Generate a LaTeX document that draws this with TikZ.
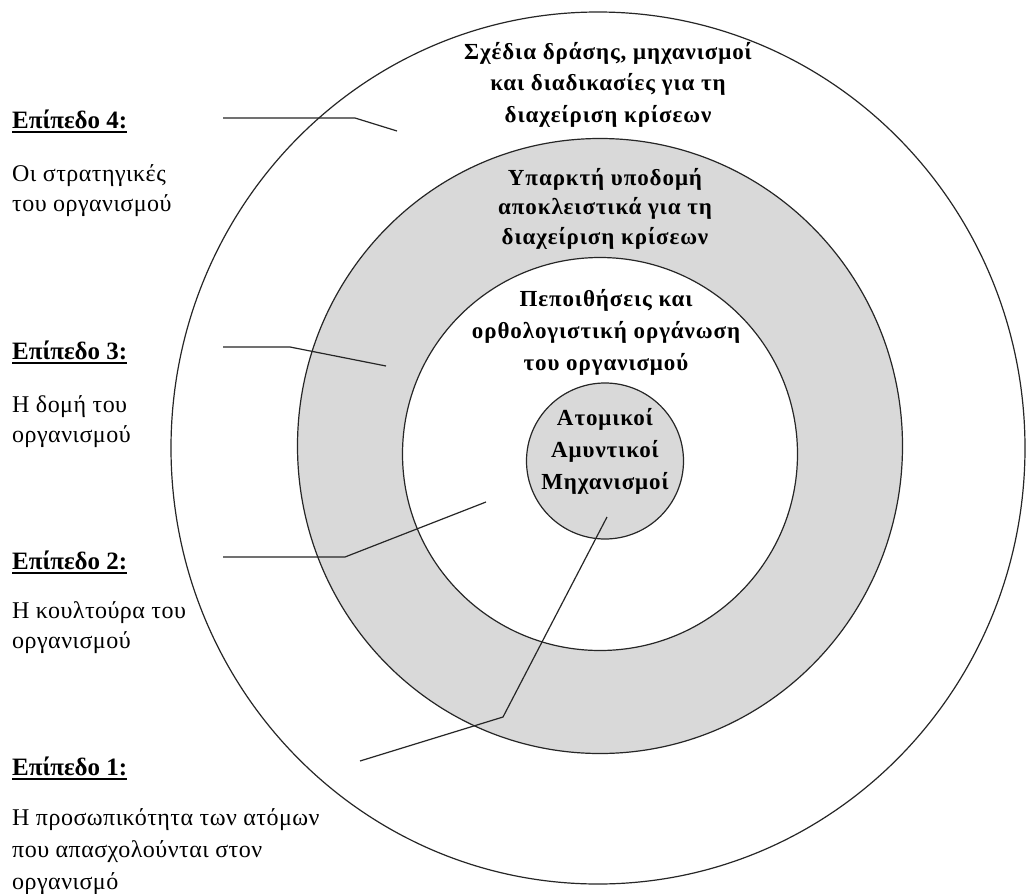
\documentclass[tikz,border=0pt]{standalone}
\usepackage{fontspec}
\setmainfont{Liberation Serif}
\newfontfamily\circfont[LetterSpace=4]{Liberation Serif}
\newfontfamily\bodyfont[LetterSpace=2]{Liberation Serif}
\usetikzlibrary{shapes.geometric}
\newcommand{\ulbox}[1]{\setbox0=\hbox{#1}\leavevmode\rlap{\rule[-5pt]{\wd0}{2pt}}\box0}
\definecolor{ringgray}{RGB}{217,217,217}
\begin{document}
\begin{tikzpicture}[x=1pt,y=-1pt,
  ring/.style={ellipse, draw=black!85, line width=1.2pt, inner sep=0pt},
  lead/.style={draw=black!85, line width=1.2pt},
  lvl/.style={anchor=base west, inner sep=0pt, font=\fontsize{25}{30}\selectfont\bfseries},
  desc/.style={anchor=base west, inner sep=0pt, align=left, font=\bodyfont\fontsize{24}{29.5}\selectfont},
  ctext/.style={anchor=base, inner sep=0pt, align=center, font=\circfont\bfseries\fontsize{23}{31.5}\selectfont}]
\useasboundingbox (0,0) rectangle (1031,894);
\fill[white] (0,0) rectangle (1031,894);
% rings
\node[ring, fill=white, minimum width=854pt, minimum height=872pt] (outer) at (598,448) {};
\node[ring, fill=ringgray, minimum width=605pt, minimum height=615pt] (gray) at (600,446) {};
\node[ring, fill=white, minimum width=395pt, minimum height=393pt] (inner) at (600,454) {};
\node[ring, fill=ringgray, minimum width=157pt, minimum height=156pt] (core) at (605,461) {};
% leader lines
\coordinate (l4s) at (223,118); \coordinate (l4k) at (355,118); \coordinate (l4e) at (397,131);
\coordinate (l3s) at (223,347); \coordinate (l3k) at (290,347); \coordinate (l3e) at (386,366);
\coordinate (l2s) at (223,557); \coordinate (l2k) at (345,557); \coordinate (l2e) at (486,502);
\coordinate (l1s) at (360,761); \coordinate (l1k) at (503,717); \coordinate (l1e) at (607,517);
\draw[lead] (l4s) -- (l4k) -- (l4e);
\draw[lead] (l3s) -- (l3k) -- (l3e);
\draw[lead] (l2s) -- (l2k) -- (l2e);
\draw[lead] (l1s) -- (l1k) -- (l1e);
% circle texts (anchor = baseline of last line)
\node[ctext] (t4) at (608,122) {Σχέδια δράσης, μηχανισμοί\\και διαδικασίες για τη\\διαχείριση κρίσεων};
\node[ctext, font=\circfont\bfseries\fontsize{23}{29.5}\selectfont] (t3) at (605,244) {Υπαρκτή υποδομή\\αποκλειστικά για τη\\διαχείριση κρίσεων};
\node[ctext, font=\circfont\bfseries\fontsize{23}{32}\selectfont] (t2) at (606,370) {Πεποιθήσεις και\\ορθολογιστική οργάνωση\\του οργανισμού};
\node[ctext, font=\circfont\bfseries\fontsize{23}{32}\selectfont] (t1) at (605,489) {Ατομικοί\\Αμυντικοί\\Μηχανισμοί};
% level labels
\node[lvl] (lv4) at (12,128) {\ulbox{Επίπεδο 4:}};
\node[desc] (d4) at (12,211) {Οι στρατηγικές\\του οργανισμού};
\node[lvl] (lv3) at (12,359) {\ulbox{Επίπεδο 3:}};
\node[desc] (d3) at (12,442) {Η δομή του\\οργανισμού};
\node[lvl] (lv2) at (12,569) {\ulbox{Επίπεδο 2:}};
\node[desc] (d2) at (12,648) {Η κουλτούρα του\\οργανισμού};
\node[lvl] (lv1) at (12,775) {\ulbox{Επίπεδο 1:}};
\node[desc, font=\bodyfont\fontsize{24}{32}\selectfont] (d1) at (12,889) {Η προσωπικότητα των ατόμων\\που απασχολούνται στον\\οργανισμό};
\end{tikzpicture}
\end{document}
